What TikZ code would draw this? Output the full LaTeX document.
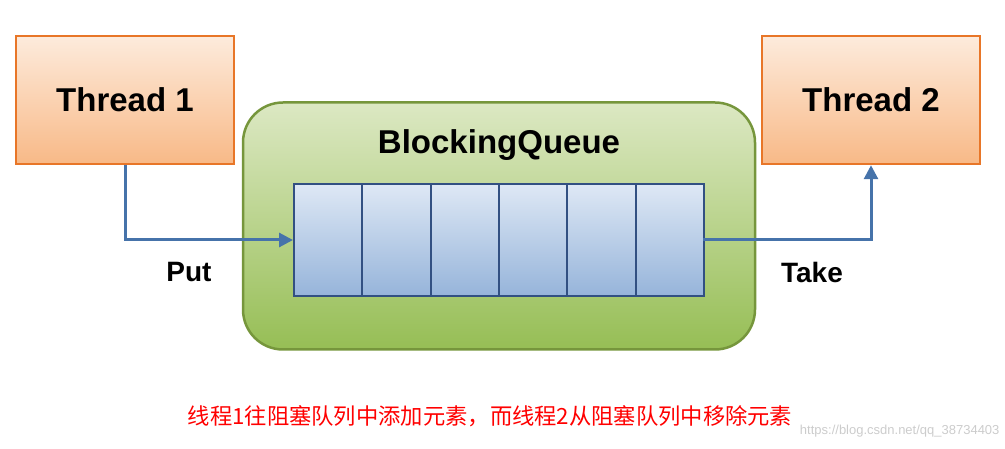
\documentclass[tikz,border=0pt]{standalone}
\usepackage{fontspec}
\setmainfont{Liberation Sans}
\newfontfamily\cjk{Noto Sans CJK SC}
\usetikzlibrary{arrows.meta}
\definecolor{ob}{RGB}{232,118,40}
\definecolor{ot}{RGB}{253,235,220}
\definecolor{obot}{RGB}{248,185,135}
\definecolor{gb}{RGB}{118,150,60}
\definecolor{gt}{RGB}{220,232,195}
\definecolor{gbot}{RGB}{150,190,85}
\definecolor{cb}{RGB}{50,80,130}
\definecolor{ct}{RGB}{222,232,245}
\definecolor{cbot}{RGB}{150,180,218}
\definecolor{ar}{RGB}{70,115,170}
\begin{document}
\begin{tikzpicture}[x=1pt,y=-1pt,
  thr/.style={draw=ob,line width=2.5pt,top color=ot,bottom color=obot,minimum width=218pt,minimum height=128pt,font=\bfseries\fontsize{33}{35}\selectfont},
  cell/.style={draw=cb,line width=2pt,top color=ct,bottom color=cbot,minimum width=68.3pt,minimum height=112pt,anchor=north west},
  conn/.style={draw=ar,line width=3pt,-{Triangle[length=14pt,width=14pt]}},
  lab/.style={font=\bfseries\fontsize{28}{30}\selectfont}]
\useasboundingbox (0,0) rectangle (1005,449);
\node[thr] (t1) at (125,100) {Thread 1};
\node[thr] (t2) at (871,100) {Thread 2};
\node[draw=gb,line width=2.5pt,rounded corners=40pt,top color=gt,bottom color=gbot,minimum width=512pt,minimum height=247pt] (bq) at (499,226) {};
\node[font=\bfseries\fontsize{33}{35}\selectfont] (bql) at (499,145) {BlockingQueue};
\foreach \i in {0,...,5}{\node[cell] (c\i) at (293+\i*68.3,183) {};}
\node[draw=cb,line width=2pt,minimum width=410pt,minimum height=112pt,anchor=north west] (q) at (293,183) {};
\coordinate (qin) at (293,240);
\coordinate (qout) at (703,240);
\draw[conn] (t1.south) |- (qin);
\draw[conn] (qout) -| (t2.south);
\node[lab] (put) at (189,272) {Put};
\node[lab] (take) at (812,272) {Take};
\node[text=red,font=\cjk\fontsize{22.3}{24}\selectfont] (cap) at (490,416) {线程1往阻塞队列中添加元素，而线程2从阻塞队列中移除元素};
\node[text=gray!40,font=\fontsize{13}{14}\selectfont,anchor=east] (wm) at (1003,431) {https://blog.csdn.net/qq\_38734403};
\end{tikzpicture}
\end{document}
